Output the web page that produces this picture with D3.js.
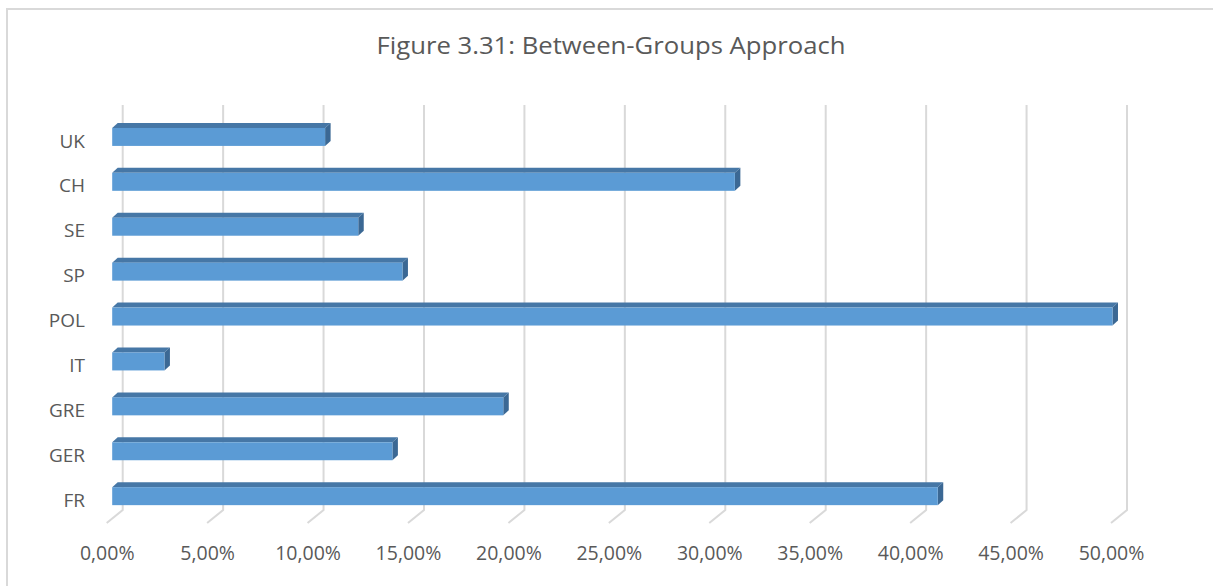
<!DOCTYPE html>
<html>
<head>
<meta charset="utf-8">
<script src="https://cdn.jsdelivr.net/npm/d3@7"></script>
<style>
  html, body { margin: 0; padding: 0; background: #fff; }
  svg { display: block; }
  text { font-family: "Open Sans", "Noto Sans", sans-serif; fill: #595959; }
</style>
</head>
<body>
<svg id="chart" width="1213" height="586"></svg>
<script>
const title = "Figure 3.31: Between-Groups Approach";
const categories = ["UK", "CH", "SE", "SP", "POL", "IT", "GRE", "GER", "FR"];
const values = [0.1060, 0.3100, 0.1225, 0.1445, 0.4980, 0.0260, 0.1947, 0.1395, 0.4110];
const tickValues = [0, 0.05, 0.10, 0.15, 0.20, 0.25, 0.30, 0.35, 0.40, 0.45, 0.50];
const tickLabels = ["0,00%", "5,00%", "10,00%", "15,00%", "20,00%", "25,00%", "30,00%", "35,00%", "40,00%", "45,00%", "50,00%"];

const svg = d3.select("#chart");

// outer chart border
svg.append("rect")
  .attr("x", 7).attr("y", 9)
  .attr("width", 1230).attr("height", 600)
  .attr("fill", "none").attr("stroke", "#D9D9D9").attr("stroke-width", 2);

// title
svg.append("text")
  .attr("x", 611).attr("y", 48)
  .attr("text-anchor", "middle")
  .attr("dominant-baseline", "middle")
  .attr("font-size", 24)
  .attr("textLength", 469)
  .attr("lengthAdjust", "spacingAndGlyphs")
  .text(title);

// scales: back wall (gridlines) and front plane (bars)
const wallTop = 105, wallBottom = 510;
const depthDx = -16, depthDy = 13;           // floor depth (back -> front)
const x = d3.scaleLinear().domain([0, 0.5]).range([122.7, 1127]);
const barShiftX = -10.5;                      // bar front plane offset vs back wall
const barDepthX = 5.5, barDepthY = -5;        // bar 3D depth

const y = d3.scaleBand()
  .domain(categories)
  .range([105.5, 527.6])
  .paddingInner(0.6)
  .paddingOuter(0.5);

// gridlines (back wall + floor segment)
const grid = svg.append("g");
tickValues.forEach(t => {
  const gx = x(t);
  grid.append("path")
    .attr("d", `M${gx},${wallTop} L${gx},${wallBottom} L${gx + depthDx},${wallBottom + depthDy}`)
    .attr("fill", "none")
    .attr("stroke", "#D9D9D9")
    .attr("stroke-width", 2);
});

// tick labels (at floor front edge)
const xAxis = d3.axisBottom(x).tickValues(tickValues)
  .tickFormat((d, i) => tickLabels[i]).tickSize(0).tickPadding(0);
const axG = svg.append("g")
  .attr("transform", `translate(${depthDx},553)`)
  .call(xAxis);
axG.select(".domain").remove();
axG.selectAll("text")
  .attr("y", 0)
  .attr("dy", "0.36em")
  .attr("font-size", 19.5)
  .attr("fill", "#595959")
  .style("font-family", '"Open Sans", "Noto Sans", sans-serif');

// category labels
const yAxis = d3.axisLeft(y).tickSize(0).tickPadding(0);
const ayG = svg.append("g")
  .attr("transform", `translate(85,4.5)`)
  .call(yAxis);
ayG.select(".domain").remove();
ayG.selectAll("text")
  .attr("font-size", 19)
  .attr("fill", "#595959")
  .style("font-family", '"Open Sans", "Noto Sans", sans-serif');

// 3D bars
const bars = svg.append("g");
categories.forEach((c, i) => {
  const x0 = x(0) + barShiftX;
  const x1 = x(values[i]) + barShiftX;
  const yt = y(c);
  const yb = yt + y.bandwidth();
  // top face
  bars.append("path")
    .attr("d", `M${x0},${yt} L${x1},${yt} L${x1 + barDepthX},${yt + barDepthY} L${x0 + barDepthX},${yt + barDepthY} Z`)
    .attr("fill", "#4677A6");
  // side face
  bars.append("path")
    .attr("d", `M${x1},${yt} L${x1 + barDepthX},${yt + barDepthY} L${x1 + barDepthX},${yb + barDepthY} L${x1},${yb} Z`)
    .attr("fill", "#3B6894");
  // front face
  bars.append("rect")
    .attr("x", x0).attr("y", yt)
    .attr("width", x1 - x0).attr("height", y.bandwidth())
    .attr("fill", "#5B9BD5");
});
</script>
</body>
</html>
